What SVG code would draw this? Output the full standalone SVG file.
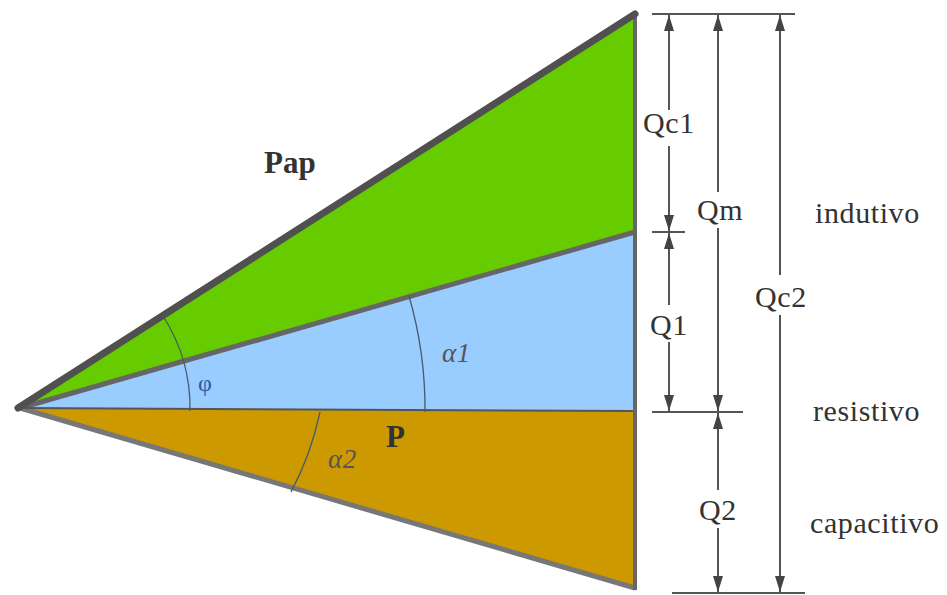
<svg xmlns="http://www.w3.org/2000/svg" width="947" height="595" viewBox="0 0 947 595">
<style>
.t{font-family:"Liberation Serif","Times New Roman",serif;font-size:30px;fill:#333;letter-spacing:0.6px}
.b{font-family:"Liberation Serif","Times New Roman",serif;font-size:31px;font-weight:bold;fill:#333}
.dim{stroke:#555;stroke-width:2;fill:none}
.arr{stroke:#555;stroke-width:2;fill:none;marker-end:url(#ah)}
.arc{stroke:#4a5a6a;stroke-width:1.3;fill:none}
</style>
<defs>
<marker id="ah" viewBox="0 0 16 10" refX="16" refY="5" markerWidth="16" markerHeight="10" markerUnits="userSpaceOnUse" orient="auto-start-reverse">
<path d="M0,0 L16,5 L0,10 Z" fill="#444"/>
</marker>
</defs>
<rect width="947" height="595" fill="#fff"/>
<g id="green">
<polygon points="20,408 635,14 635,232" fill="#66cc00"/>
</g>
<g id="blue">
<polygon points="20,408 635,232 635,411" fill="#99ccff"/>
</g>
<g id="orange">
<polygon points="20,408 635,411 635,588" fill="#cc9900"/>
</g>
<g id="edges">
<line x1="20" y1="408" x2="635" y2="232" stroke="#666" stroke-width="5"/>
<line x1="20" y1="408" x2="635" y2="588" stroke="#777" stroke-width="5"/>
<line x1="20" y1="408" x2="635" y2="411" stroke="#555" stroke-width="2"/>
<line x1="635" y1="14" x2="635" y2="590" stroke="#666" stroke-width="4"/>
<line x1="18" y1="408" x2="635" y2="14" stroke="#505050" stroke-width="7" stroke-linecap="round"/>
</g>
<g id="arcs">
<path class="arc" d="M190,411 A170,170 0 0 0 163,316"/>
<path class="arc" d="M425,412 A405,405 0 0 0 409,296"/>
<path class="arc" d="M320,412 A300,300 0 0 1 291,492"/>
</g>
<g id="connectors">
<line class="dim" x1="652" y1="14" x2="795" y2="14"/>
<line class="dim" x1="652" y1="232" x2="685" y2="232"/>
<line class="dim" x1="652" y1="412" x2="743" y2="412"/>
<line class="dim" x1="672" y1="593" x2="805" y2="593"/>
<line class="arr" x1="669" y1="110" x2="669" y2="15"/>
<line class="arr" x1="669" y1="146" x2="669" y2="231"/>
<line class="arr" x1="669" y1="305" x2="669" y2="233"/>
<line class="arr" x1="669" y1="342" x2="669" y2="411"/>
<line class="arr" x1="718" y1="192" x2="718" y2="15"/>
<line class="arr" x1="718" y1="228" x2="718" y2="411"/>
<line class="arr" x1="718" y1="490" x2="718" y2="413"/>
<line class="arr" x1="718" y1="528" x2="718" y2="592"/>
<line class="arr" x1="780" y1="275" x2="780" y2="15"/>
<line class="arr" x1="780" y1="315" x2="780" y2="592"/>
</g>
<g id="labels">
<text class="b" x="264" y="173">Pap</text>
<text class="b" x="386" y="447">P</text>
<text x="198" y="391" style="font-family:'Liberation Serif',serif;font-size:24px;fill:#3355aa">φ</text>
<text class="t" x="442" y="362" style="font-style:italic;font-size:27px;fill:#555">α1</text>
<text class="t" x="328" y="468" style="font-style:italic;font-size:27px;fill:#555">α2</text>
<text class="t" x="669" y="133" text-anchor="middle">Qc1</text>
<text class="t" x="669" y="335" text-anchor="middle">Q1</text>
<text class="t" x="720" y="220" text-anchor="middle">Qm</text>
<text class="t" x="718" y="520" text-anchor="middle">Q2</text>
<text class="t" x="781" y="307" text-anchor="middle">Qc2</text>
<text class="t" x="815" y="223">indutivo</text>
<text class="t" x="813" y="421">resistivo</text>
<text class="t" x="810" y="533">capacitivo</text>
</g>
</svg>
